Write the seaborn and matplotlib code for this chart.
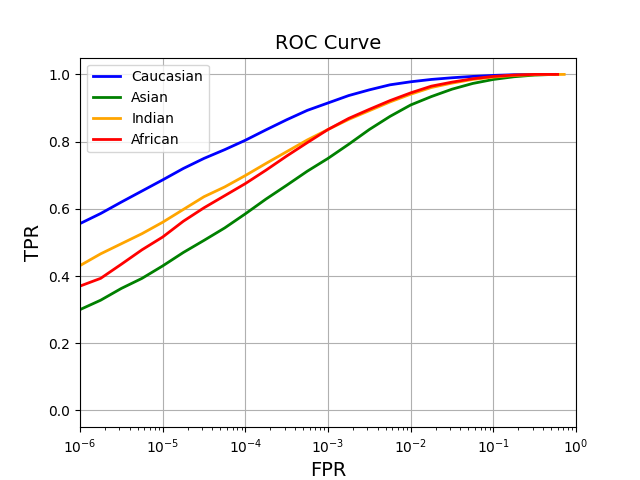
import numpy as np
import pandas as pd
import matplotlib
matplotlib.use("Agg")
import matplotlib.pyplot as plt
import seaborn as sns

# FPR grid: log10 exponents read at quarter-decade steps
fpr_exp = [-6.0, -5.75, -5.5, -5.25, -5.0, -4.75, -4.5, -4.25, -4.0, -3.75, -3.5, -3.25,
           -3.0, -2.75, -2.5, -2.25, -2.0, -1.75, -1.5, -1.25, -1.0, -0.75, -0.5]

tpr_caucasian = [0.556, 0.586, 0.620, 0.653, 0.686, 0.720, 0.750, 0.776, 0.804, 0.835, 0.865, 0.893,
                 0.915, 0.937, 0.954, 0.969, 0.978, 0.985, 0.990, 0.994, 0.997, 0.999, 1.000]
tpr_asian     = [0.300, 0.328, 0.363, 0.393, 0.430, 0.470, 0.506, 0.543, 0.585, 0.629, 0.670, 0.712,
                 0.750, 0.792, 0.836, 0.875, 0.909, 0.934, 0.956, 0.973, 0.985, 0.993, 0.998]
tpr_indian    = [0.431, 0.466, 0.496, 0.526, 0.560, 0.598, 0.636, 0.665, 0.699, 0.735, 0.770, 0.805,
                 0.836, 0.866, 0.892, 0.918, 0.941, 0.961, 0.974, 0.985, 0.992, 0.997, 0.999]
tpr_african   = [0.370, 0.393, 0.435, 0.478, 0.516, 0.563, 0.603, 0.639, 0.675, 0.715, 0.757, 0.797,
                 0.836, 0.869, 0.896, 0.922, 0.945, 0.965, 0.977, 0.987, 0.994, 0.998, 1.000]

# last point of each curve (FPR where TPR reaches 1)
end_fpr = {"Caucasian": 0.55, "Asian": 0.55, "Indian": 0.72, "African": 0.60}

groups = ["Caucasian", "Asian", "Indian", "African"]
colors = ["blue", "green", "orange", "red"]
series = [tpr_caucasian, tpr_asian, tpr_indian, tpr_african]

rows = []
for g, vals in zip(groups, series):
    for e, v in zip(fpr_exp, vals):
        rows.append({"FPR": 10 ** e, "TPR": v, "group": g})
    rows.append({"FPR": end_fpr[g], "TPR": 1.0, "group": g})
df = pd.DataFrame(rows)

fig, ax = plt.subplots(figsize=(6.4, 4.8), dpi=100)

sns.lineplot(data=df, x="FPR", y="TPR", hue="group", hue_order=groups,
             palette=colors, linewidth=2, ax=ax, estimator=None)

ax.set_xscale("log")
ax.set_xlim(1e-6, 1)
ax.set_ylim(-0.05, 1.05)
ax.grid(True)
ax.set_title("ROC Curve", fontsize=14)
ax.set_xlabel("FPR", fontsize=14)
ax.set_ylabel("TPR", fontsize=14)
ax.legend(loc="upper left")

plt.savefig("out.png")
